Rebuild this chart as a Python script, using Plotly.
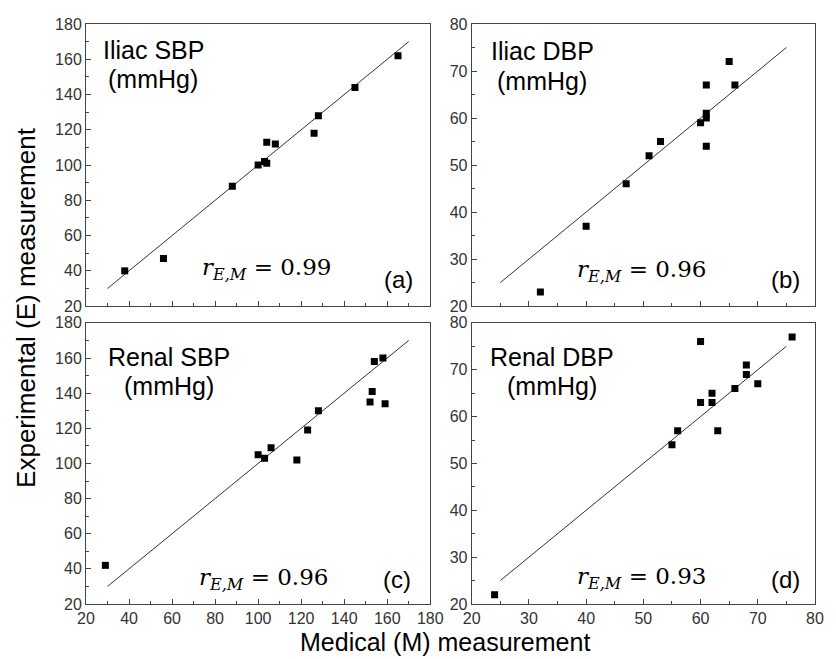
import plotly.graph_objects as go

# ---- data ----
a_med = [38, 56, 88, 100, 103, 104, 104, 108, 126, 128, 145, 165]
a_exp = [40, 47, 88, 100, 102, 101, 113, 112, 118, 128, 144, 162]
b_med = [32, 40, 47, 51, 53, 60, 61, 61, 61, 61, 65, 66]
b_exp = [23, 37, 46, 52, 55, 59, 60, 61, 67, 54, 72, 67]
c_med = [29, 100, 103, 106, 118, 123, 128, 152, 153, 154, 158, 159]
c_exp = [42, 105, 103, 109, 102, 119, 130, 135, 141, 158, 160, 134]
d_med = [24, 55, 56, 60, 60, 62, 62, 63, 66, 68, 68, 70, 76]
d_exp = [22, 54, 57, 76, 63, 65, 63, 57, 66, 71, 69, 67, 77]

sbp_line = [30, 170]
dbp_line = [25, 75]

panel_names = ["Iliac SBP", "Iliac DBP", "Renal SBP", "Renal DBP"]
unit_label = "(mmHg)"
r_values = ["0.99", "0.96", "0.96", "0.93"]
panel_tags = ["(a)", "(b)", "(c)", "(d)"]

SANS = "Liberation Sans, Arial, sans-serif"
SERIF = "DejaVu Serif, serif"
AX = "#444444"

fig = go.Figure()
panels = [
    (a_med, a_exp, sbp_line, "x", "y"),
    (b_med, b_exp, dbp_line, "x2", "y2"),
    (c_med, c_exp, sbp_line, "x3", "y3"),
    (d_med, d_exp, dbp_line, "x4", "y4"),
]
for med, exp, ln, xa, ya in panels:
    fig.add_trace(go.Scatter(x=ln, y=ln, mode="lines", xaxis=xa, yaxis=ya,
                             line=dict(color="#333333", width=1), showlegend=False,
                             hoverinfo="skip"))
    fig.add_trace(go.Scatter(x=med, y=exp, mode="markers", xaxis=xa, yaxis=ya,
                             marker=dict(symbol="square", size=7, color="black"),
                             showlegend=False))

# page body has an 8px margin, so the figure is 8px smaller and offset
W = 739.0
H = 588.0
xdom_l = [0, 349 / W]
xdom_r = [391 / W, 1]
ydom_t = [(604 - 302) / H, 1]
ydom_b = [0, 285 / H]


def xax(dom, anchor, rng, dtick, mdtick, labels):
    return dict(domain=dom, anchor=anchor, range=rng, dtick=dtick, tick0=rng[0],
                ticks="inside", ticklen=5, tickwidth=1, tickcolor=AX,
                minor=dict(ticks="inside", ticklen=3, dtick=mdtick, tick0=rng[0], tickcolor=AX),
                showline=True, linecolor=AX, linewidth=1, mirror=True,
                showgrid=False, zeroline=False, showticklabels=labels,
                tickfont=dict(family=SANS, size=16, color="#333333"))


def yax(dom, anchor, rng, dtick, mdtick):
    return dict(domain=dom, anchor=anchor, range=rng, dtick=dtick, tick0=rng[0],
                ticks="inside", ticklen=5, tickwidth=1, tickcolor=AX,
                minor=dict(ticks="inside", ticklen=3, dtick=mdtick, tick0=rng[0], tickcolor=AX),
                showline=True, linecolor=AX, linewidth=1, mirror=True,
                showgrid=False, zeroline=False,
                tickfont=dict(family=SANS, size=16, color="#333333"))


fig.update_layout(
    width=828, height=651,
    margin=dict(l=78, r=11, t=8, b=55),
    paper_bgcolor="white", plot_bgcolor="white",
    xaxis=xax(xdom_l, "y", [20, 180], 20, 10, False),
    yaxis=yax(ydom_t, "x", [20, 180], 20, 10),
    xaxis2=xax(xdom_r, "y2", [20, 80], 10, 5, False),
    yaxis2=yax(ydom_t, "x2", [20, 80], 10, 5),
    xaxis3=xax(xdom_l, "y3", [20, 180], 20, 10, True),
    yaxis3=yax(ydom_b, "x3", [20, 180], 20, 10),
    xaxis4=xax(xdom_r, "y4", [20, 80], 10, 5, True),
    yaxis4=yax(ydom_b, "x4", [20, 80], 10, 5),
)

axes_ids = ["", "2", "3", "4"]
# (x center, y of line 1, y of line 2) in axis-domain fractions
title_pos = [(0.195, 0.909, 0.804), (0.206, 0.904, 0.799),
             (0.242, 0.879, 0.774), (0.235, 0.879, 0.774)]
r_pos = [(0.332, 0.133), (0.301, 0.126), (0.321, 0.088), (0.301, 0.091)]
tag_pos = [(0.957, 0.094), (0.963, 0.094), (0.951, 0.086), (0.963, 0.086)]

anns = []
for i, ax in enumerate(axes_ids):
    xr = "x" + ax + " domain"
    yr = "y" + ax + " domain"
    tx, ty1, ty2 = title_pos[i]
    anns.append(dict(text=panel_names[i], xref=xr, yref=yr, x=tx, y=ty1,
                     xanchor="center", yanchor="middle", showarrow=False,
                     font=dict(family=SANS, size=25, color="black")))
    anns.append(dict(text=unit_label, xref=xr, yref=yr, x=tx, y=ty2,
                     xanchor="center", yanchor="middle", showarrow=False,
                     font=dict(family=SANS, size=25, color="black")))
    anns.append(dict(text="<i>r</i><sub><i>E,M</i></sub> = " + r_values[i], xref=xr, yref=yr,
                     x=r_pos[i][0], y=r_pos[i][1], xanchor="left", yanchor="middle",
                     showarrow=False, font=dict(family=SERIF, size=23, color="black")))
    anns.append(dict(text=panel_tags[i], xref=xr, yref=yr, x=tag_pos[i][0], y=tag_pos[i][1],
                     xanchor="right", yanchor="middle", showarrow=False,
                     font=dict(family=SANS, size=24, color="black")))

anns.append(dict(text="Medical (M) measurement", xref="paper", yref="paper",
                 x=(450 - 86) / W, y=-(643 - 604) / H, xanchor="center", yanchor="middle",
                 showarrow=False, font=dict(family=SANS, size=25, color="black")))
anns.append(dict(text="Experimental (E) measurement", xref="paper", yref="paper",
                 x=(25 - 86) / W, y=(604 - 303) / H, xanchor="center", yanchor="middle",
                 textangle=-90, showarrow=False, font=dict(family=SANS, size=26, color="black")))
fig.update_layout(annotations=anns)

fig.write_html("out.html")
